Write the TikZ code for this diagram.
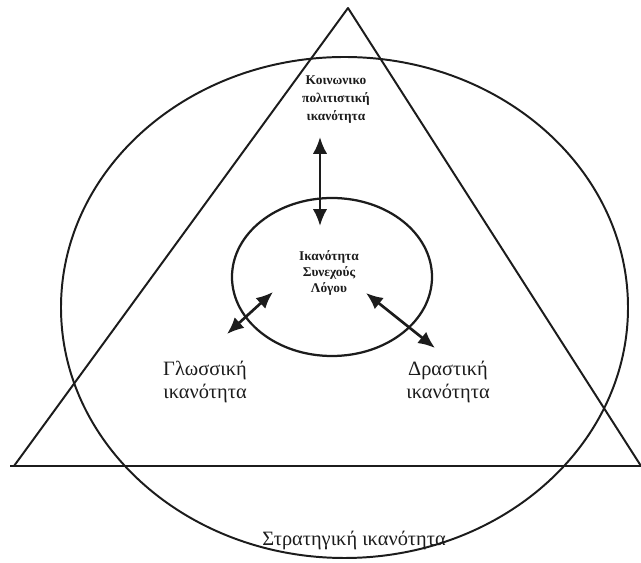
\documentclass[tikz,border=0pt]{standalone}
\usepackage{fontspec}
\setmainfont{Liberation Serif}
\usetikzlibrary{arrows.meta}
\definecolor{ScanInk}{HTML}{1C1C1C}

\begin{document}
\begin{tikzpicture}[x=0.025cm,y=-0.025cm,line join=round,
    twoway/.style={{Latex[length=4.2mm,width=3.6mm]}-{Latex[length=4.2mm,width=3.6mm]},
                   line width=1.9pt,draw=ScanInk},
    smalllabel/.style={text=ScanInk,align=center,inner sep=0pt,
                       font=\bfseries\fontsize{9.5}{12.8}\selectfont},
    biglabel/.style={text=ScanInk,align=center,inner sep=0pt,
                     font=\fontsize{14.5}{16}\selectfont}]
  \useasboundingbox (0,0) rectangle (641,563);

  % outer shapes
  \draw[ScanInk,line width=1.4pt] (348,8) -- (14,466) -- (641,466) -- cycle;
  \draw[ScanInk,line width=1.4pt] (344.5,307.5) ellipse [x radius=283.5,y radius=250.5];
  \draw[ScanInk,line width=2pt] (10,466) -- (641,466);

  % discourse ellipse
  \draw[ScanInk,line width=1.6pt] (332,277) ellipse [x radius=100,y radius=79];

  \node[smalllabel] (social) at (336,100) {Κοινωνικο\\πολιτιστική\\ικανότητα};
  \node[smalllabel,font=\bfseries\fontsize{9.5}{11.6}\selectfont]
        (discourse) at (329,273) {Ικανότητα\\Συνεχούς\\Λόγου};
  \node[biglabel] (linguistic) at (205,382) {Γλωσσική\\ικανότητα};
  \node[biglabel] (actional) at (448,382) {Δραστική\\ικανότητα};
  \node[biglabel] (strategic) at (354,540) {Στρατηγική ικανότητα};

  \coordinate (socialEnd) at (320,137);
  \coordinate (discTop) at (320,226);
  \coordinate (lingEnd) at (227,334);
  \coordinate (discLeft) at (273,292);
  \coordinate (actEnd) at (435,348);
  \coordinate (discRight) at (366,293);

  \draw[twoway] (socialEnd) -- (discTop);
  \draw[twoway] (lingEnd) -- (discLeft);
  \draw[twoway] (discRight) -- (actEnd);
\end{tikzpicture}
\end{document}
